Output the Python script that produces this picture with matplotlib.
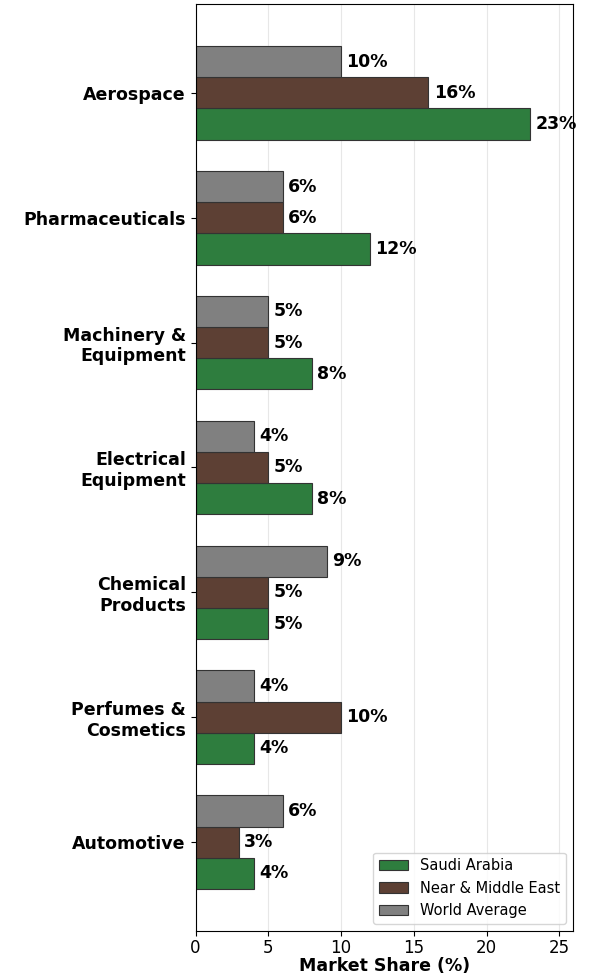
import numpy as np
import matplotlib.pyplot as plt

# Datos
sectores = ['Aerospace', 'Pharmaceuticals', 'Machinery &\nEquipment', 'Electrical\nEquipment',
            'Chemical\nProducts', 'Perfumes &\nCosmetics', 'Automotive']
saudi = [23, 12, 8, 8, 5, 4, 4]
near_east = [16, 6, 5, 5, 5, 10, 3]
world = [10, 6, 5, 4, 9, 4, 6]

# Posiciones (Aerospace arriba)
y = np.arange(len(sectores))[::-1]
h = 0.25

fig, ax = plt.subplots(figsize=(5.9, 9.77), dpi=100)
fig.subplots_adjust(left=0.3315, right=0.9717, bottom=0.047, top=0.996)
b1 = ax.barh(y - h, saudi, h, color='#2e7d3e', edgecolor='#333333', linewidth=0.8, label='Saudi Arabia')
b2 = ax.barh(y, near_east, h, color='#5d4034', edgecolor='#333333', linewidth=0.8, label='Near & Middle East')
b3 = ax.barh(y + h, world, h, color='#808080', edgecolor='#333333', linewidth=0.8, label='World Average')

for bars in (b1, b2, b3):
    for b in bars:
        ax.text(b.get_width() + 0.35, b.get_y() + b.get_height() / 2, f'{b.get_width():.0f}%',
                va='center', ha='left', fontsize=12.5, fontweight='bold')

ax.set_yticks(y)
ax.set_yticklabels(sectores, fontsize=12.5, fontweight='bold')
ax.tick_params(axis='x', labelsize=12, pad=2)
ax.set_xlim(0, 25.95)
ax.set_xlabel('Market Share (%)', fontsize=12.5, fontweight='bold', labelpad=0)
ax.grid(axis='x', alpha=0.3)
ax.set_axisbelow(True)
ax.legend(loc='lower right', fontsize=10.5)

plt.savefig('out.png')
